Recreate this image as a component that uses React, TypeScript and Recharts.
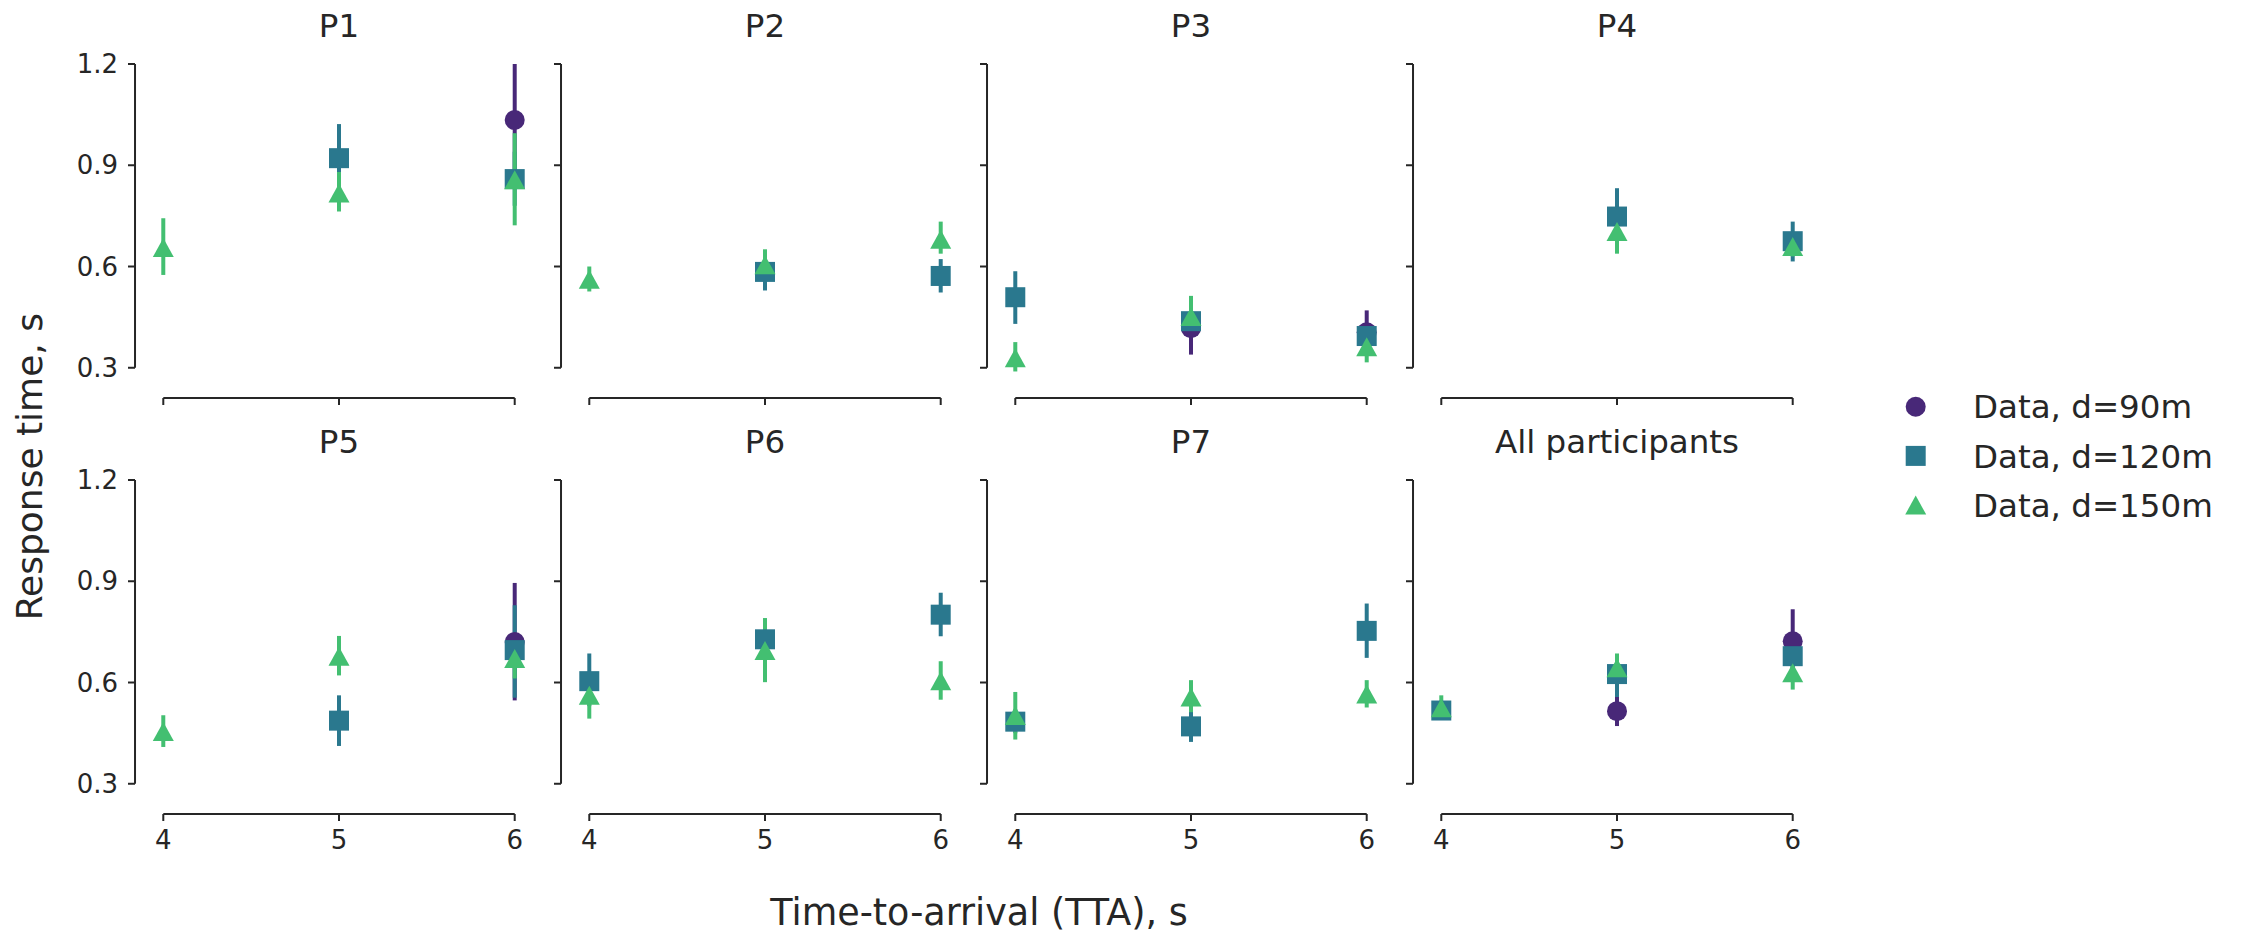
import React from 'react'
import { ScatterChart, Scatter, XAxis, YAxis, ErrorBar, ReferenceLine } from 'recharts'

type Val = number | null

// x categories (time-to-arrival, s)
const TTA = [4, 5, 6]

const PANELS = ['P1', 'P2', 'P3', 'P4', 'P5', 'P6', 'P7', 'All participants']

const SERIES = ['Data, d=90m', 'Data, d=120m', 'Data, d=150m']
const KINDS = ['circle', 'square', 'triangle']
const COLORS = ['#482878', '#2a788e', '#43bf71']

const Y_TICKS = [0.3, 0.6, 0.9, 1.2]

// mean response time per panel, at TTA 4 / 5 / 6 (null = no data)
const MEAN_90: Val[][] = [
  [null, null, 1.034],
  [null, null, null],
  [null, 0.417, 0.405],
  [null, null, null],
  [null, null, 0.72],
  [null, null, null],
  [null, null, null],
  [null, 0.515, 0.722],
]
const LO_90: Val[][] = [
  [null, null, 0.87],
  [null, null, null],
  [null, 0.339, 0.34],
  [null, null, null],
  [null, null, 0.547],
  [null, null, null],
  [null, null, null],
  [null, 0.471, 0.64],
]
const HI_90: Val[][] = [
  [null, null, 1.2],
  [null, null, null],
  [null, 0.49, 0.47],
  [null, null, null],
  [null, null, 0.895],
  [null, null, null],
  [null, null, null],
  [null, 0.56, 0.817],
]

const MEAN_120: Val[][] = [
  [null, 0.921, 0.859],
  [null, 0.584, 0.572],
  [0.509, 0.438, 0.394],
  [null, 0.748, 0.675],
  [null, 0.487, 0.696],
  [0.604, 0.728, 0.801],
  [0.484, 0.47, 0.753],
  [0.517, 0.625, 0.678],
]
const LO_120: Val[][] = [
  [null, 0.82, 0.78],
  [null, 0.529, 0.523],
  [0.43, 0.4, 0.36],
  [null, 0.67, 0.615],
  [null, 0.412, 0.555],
  [0.53, 0.69, 0.737],
  [0.45, 0.424, 0.673],
  [0.505, 0.557, 0.63],
]
const HI_120: Val[][] = [
  [null, 1.022, 0.94],
  [null, 0.64, 0.622],
  [0.586, 0.48, 0.42],
  [null, 0.832, 0.733],
  [null, 0.562, 0.829],
  [0.686, 0.77, 0.866],
  [0.52, 0.52, 0.834],
  [0.53, 0.68, 0.73],
]

const MEAN_150: Val[][] = [
  [0.656, 0.818, 0.857],
  [0.562, 0.605, 0.681],
  [0.33, 0.452, 0.362],
  [null, 0.704, 0.659],
  [0.455, 0.678, 0.671],
  [0.562, 0.695, 0.605],
  [0.502, 0.557, 0.566],
  [0.525, 0.644, 0.629],
]
const LO_150: Val[][] = [
  [0.575, 0.763, 0.722],
  [0.526, 0.56, 0.638],
  [0.289, 0.4, 0.316],
  [null, 0.638, 0.63],
  [0.409, 0.621, 0.612],
  [0.493, 0.601, 0.549],
  [0.431, 0.512, 0.526],
  [0.49, 0.6, 0.579],
]
const HI_150: Val[][] = [
  [0.743, 0.88, 0.995],
  [0.6, 0.651, 0.733],
  [0.376, 0.513, 0.41],
  [null, 0.77, 0.69],
  [0.503, 0.738, 0.73],
  [0.62, 0.791, 0.663],
  [0.572, 0.607, 0.607],
  [0.562, 0.686, 0.68],
]

const MEANS = [MEAN_90, MEAN_120, MEAN_150]
const LOS = [LO_90, LO_120, LO_150]
const HIS = [HI_90, HI_120, HI_150]

// layout
const FONT = 'DejaVu Sans'
const INK = '#262626'
const X_MIN = 3.839
const X_MAX = 6.161
const Y_MIN = 0.2104
const Y_MAX = 1.2
const PLOT_LEFT0 = 135
const COL_STEP = 426
const ROW_TOP = [64, 480]
const Y_AXIS_W = 70
const PLOT_W = 408
const PLOT_H = 334
const MARGIN_TOP = 20
const X_AXIS_H = 50

function seriesData(p: number, s: number) {
  const mean = MEANS[s][p]
  const lo = LOS[s][p]
  const hi = HIS[s][p]
  const out: { x: number; y: number; err: number[] }[] = []
  TTA.forEach((x, i) => {
    const m = mean[i]
    if (m == null) return
    out.push({ x, y: m, err: [m - (lo[i] as number), (hi[i] as number) - m] })
  })
  return out
}

function Marker({ cx, cy, kind, color }: { cx: number; cy: number; kind: string; color: string }) {
  if (kind === 'circle') return <circle cx={cx} cy={cy} r={10} fill={color} />
  if (kind === 'square') return <rect x={cx - 10} y={cy - 10} width={20} height={20} fill={color} />
  return (
    <path
      d={`M${cx},${cy - 9.5} L${cx + 10.5},${cy + 9.5} L${cx - 10.5},${cy + 9.5} Z`}
      fill={color}
    />
  )
}

// tick label renderers (tick marks are drawn by the axis itself)
const NoLabel = () => <g />

const XTickLabel = (p: any) => (
  <text x={p.x} y={p.y} dy="0.71em" textAnchor="middle" fontSize={26} fill={INK} fontFamily={FONT}>
    {p.payload.value}
  </text>
)

const YTickLabel = (p: any) => (
  <text x={p.x} y={p.y} dy="0.355em" textAnchor="end" fontSize={26} fill={INK} fontFamily={FONT}>
    {Number(p.payload.value).toFixed(1)}
  </text>
)

function Panel({ index }: { index: number }) {
  const row = Math.floor(index / 4)
  const col = index % 4

  return (
    <div
      style={{
        position: 'absolute',
        left: PLOT_LEFT0 + col * COL_STEP - Y_AXIS_W,
        top: ROW_TOP[row] - MARGIN_TOP,
      }}
    >
      <ScatterChart
        width={Y_AXIS_W + PLOT_W + 10}
        height={MARGIN_TOP + PLOT_H + X_AXIS_H}
        margin={{ top: MARGIN_TOP, right: 10, bottom: 0, left: 0 }}
      >
        <XAxis
          type="number"
          dataKey="x"
          domain={[X_MIN, X_MAX]}
          allowDataOverflow
          ticks={TTA}
          axisLine={false}
          tickLine={{ stroke: INK, strokeWidth: 2 }}
          tickSize={7}
          tickMargin={10}
          height={X_AXIS_H}
          tick={row === 1 ? XTickLabel : NoLabel}
        />
        <YAxis
          type="number"
          dataKey="y"
          domain={[Y_MIN, Y_MAX]}
          allowDataOverflow
          ticks={Y_TICKS}
          axisLine={false}
          tickLine={{ stroke: INK, strokeWidth: 2 }}
          tickSize={7}
          tickMargin={10}
          width={Y_AXIS_W}
          tick={col === 0 ? YTickLabel : NoLabel}
        />
        {/* trimmed spines */}
        <ReferenceLine
          segment={[{ x: 4, y: Y_MIN }, { x: 6, y: Y_MIN }]}
          stroke={INK}
          strokeWidth={2}
          ifOverflow="visible"
        />
        <ReferenceLine
          segment={[{ x: X_MIN + 0.0001, y: 0.3 }, { x: X_MIN + 0.0001, y: 1.2 }]}
          stroke={INK}
          strokeWidth={2}
          ifOverflow="visible"
        />
        {SERIES.map((name, s) => (
          <Scatter
            key={name}
            name={name}
            data={seriesData(index, s)}
            fill={COLORS[s]}
            isAnimationActive={false}
            shape={(p: any) => <Marker cx={p.cx} cy={p.cy} kind={KINDS[s]} color={COLORS[s]} />}
          >
            <ErrorBar
              dataKey="err"
              direction="y"
              width={0}
              stroke={COLORS[s]}
              strokeWidth={4}
              isAnimationActive={false}
            />
          </Scatter>
        ))}
      </ScatterChart>
    </div>
  )
}

export default function App() {
  const titleX = (col: number) =>
    PLOT_LEFT0 + col * COL_STEP + ((5 - X_MIN) / (X_MAX - X_MIN)) * PLOT_W
  const titleBase = [36.7, 452.7]

  return (
    <div
      style={{
        position: 'absolute',
        left: 0,
        top: 0,
        width: 2247,
        height: 933,
        background: '#fff',
        fontFamily: FONT,
      }}
    >
      {PANELS.map((_, i) => (
        <Panel key={i} index={i} />
      ))}

      <svg
        width={2247}
        height={933}
        style={{ position: 'absolute', left: 0, top: 0, pointerEvents: 'none' }}
        fontFamily={FONT}
      >
        {PANELS.map((title, i) => (
          <text
            key={title}
            x={titleX(i % 4)}
            y={titleBase[Math.floor(i / 4)]}
            textAnchor="middle"
            fontSize={32.5}
            fill={INK}
          >
            {title}
          </text>
        ))}

        <text x={979} y={925} textAnchor="middle" fontSize={36.5} fill={INK}>
          Time-to-arrival (TTA), s
        </text>
        <text
          transform="translate(41.7,466.7) rotate(-90)"
          textAnchor="middle"
          fontSize={36}
          fill={INK}
        >
          Response time, s
        </text>

        {/* legend */}
        {SERIES.map((name, s) => {
          const cy = 406.7 + s * 49.2
          return (
            <g key={name}>
              <Marker cx={1915.7} cy={cy} kind={KINDS[s]} color={COLORS[s]} />
              <text x={1973} y={418.3 + s * 49.2} fontSize={32.5} fill={INK}>
                {name}
              </text>
            </g>
          )
        })}
      </svg>
    </div>
  )
}
